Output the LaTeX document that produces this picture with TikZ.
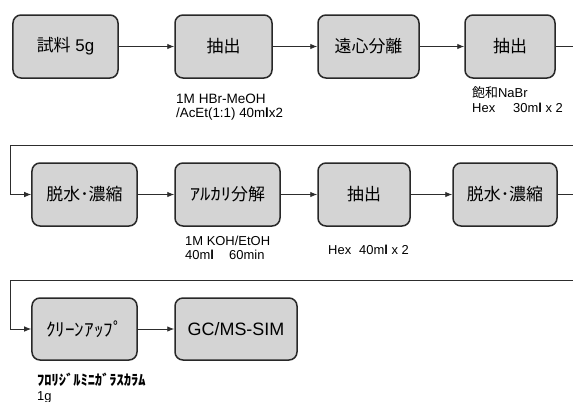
\documentclass[tikz,border=0pt]{standalone}
\usepackage{fontspec}
\setmainfont{Liberation Sans}
\newfontfamily\jp{Noto Sans CJK JP}
\usetikzlibrary{arrows.meta}
\definecolor{boxfill}{RGB}{212,212,212}
\definecolor{boxline}{RGB}{40,40,40}
\definecolor{conn}{RGB}{45,45,45}
\begin{document}
\begin{tikzpicture}[x=1bp,y=-1bp,
  stepbox/.style={draw=boxline, line width=1.5bp, fill=boxfill, rounded corners=8bp, inner sep=0pt, minimum height=63bp, font=\fontsize{17}{20}\selectfont},
  flow/.style={draw=conn, line width=0.9bp, -{Latex[length=7bp,width=5.5bp]}},
  link/.style={draw=conn, line width=1.1bp},
  lab/.style={anchor=base west, inner sep=0pt, font=\fontsize{13}{15}\selectfont}]
\useasboundingbox (0,0) rectangle (573,401);
\fill[white] (0,0) rectangle (573,401);

% row 1
\node[stepbox, minimum width=105bp] (a1) at (65.5,46.5) {{\jp 試料} 5g};
\node[stepbox, minimum width=97bp]  (a2) at (223.5,46.5) {\jp 抽出};
\node[stepbox, minimum width=101bp] (a3) at (368.5,46.5) {\jp 遠心分離};
\node[stepbox, minimum width=90bp]  (a4) at (510,46.5) {\jp 抽出};
% row 2
\node[stepbox, minimum width=105bp] (b1) at (84.5,194.5) {\jp 脱水･濃縮};
\node[stepbox, minimum width=105bp] (b2) at (227.5,194.5) {\jp \scalebox{1.22}[1]{ｱﾙｶﾘ}分解};
\node[stepbox, minimum width=92bp]  (b3) at (364,194.5) {\jp 抽出};
\node[stepbox, minimum width=104bp] (b4) at (505,194.5) {\jp 脱水･濃縮};
% row 3
\node[stepbox, minimum width=105bp, minimum height=62bp] (c1) at (84.5,329) {\fontsize{18.5}{20}\selectfont\jp \scalebox{1.04}[1]{ｸﾘｰﾝｱｯﾌﾟ}};
\node[stepbox, minimum width=122bp, minimum height=62bp] (c2) at (236,329) {\fontsize{18}{20}\selectfont GC/MS-SIM};

% connectors
\coordinate (r1) at (573,46.5);
\coordinate (t2r) at (573,145);
\coordinate (t2l) at (10,145);
\coordinate (r2) at (573,194.5);
\coordinate (t3r) at (573,280);
\coordinate (t3l) at (10,280);

\draw[flow] (a1) -- (a2);
\draw[flow] (a2) -- (a3);
\draw[flow] (a3) -- (a4);
\draw[link] (a4.east) -- (r1);
\draw[flow] (t2r) -- (t2l) |- (b1.west);
\draw[flow] (b1) -- (b2);
\draw[flow] (b2) -- (b3);
\draw[flow] (b3) -- (b4);
\draw[link] (b4.east) -- (r2);
\draw[flow] (t3r) -- (t3l) |- (c1.west);
\draw[flow] (c1) -- (c2);

% labels
\node[lab, font=\fontsize{13.6}{15}\selectfont] (l1) at (176,103) {1M HBr-MeOH};
\node[lab, font=\fontsize{13.4}{15}\selectfont] (l2) at (176,117) {/AcEt(1:1) 40m\textbf{l}x2};
\node[lab] (l3) at (472,97) {{\jp 飽和}NaBr};
\node[lab] (l4) at (472,112) {Hex};
\node[lab] (l5) at (513,112) {30m\textbf{l} x 2};
\node[lab] (l6) at (185,245) {1M KOH/EtOH};
\node[lab] (l7) at (185,259) {40m\textbf{l}};
\node[lab] (l8) at (229,259) {60min};
\node[lab] (l9) at (328,254) {Hex};
\node[lab] (l10) at (359,254) {40m\textbf{l} x 2};
\node[lab, font=\fontsize{14.5}{16}\selectfont] (l11) at (37,385) {\jp\bfseries ﾌﾛﾘｼﾞﾙﾐﾆｶﾞﾗｽｶﾗﾑ};
\node[lab] (l12) at (37,400) {1g};
\end{tikzpicture}
\end{document}
